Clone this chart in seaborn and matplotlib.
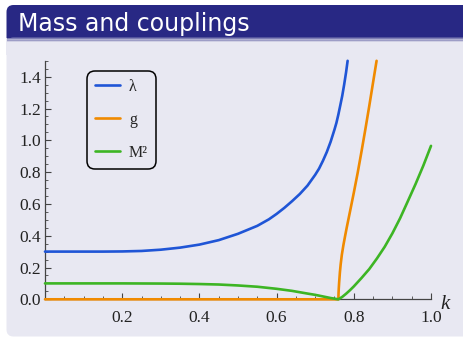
import numpy as np
import pandas as pd
import matplotlib
matplotlib.use("Agg")
import matplotlib.pyplot as plt
from matplotlib.patches import FancyBboxPatch, Rectangle
from matplotlib.ticker import MultipleLocator, FixedLocator
import seaborn as sns

# ---- data ----
k_lambda = [0.0, 0.1, 0.15, 0.2, 0.25, 0.3, 0.35, 0.4, 0.45, 0.5, 0.55, 0.58, 0.6,
            0.62, 0.64, 0.66, 0.68, 0.7, 0.71, 0.72, 0.73, 0.74, 0.75, 0.755, 0.76,
            0.765, 0.77, 0.775, 0.78, 0.784]
v_lambda = [0.300, 0.300, 0.300, 0.301, 0.304, 0.312, 0.325, 0.344, 0.372, 0.412,
            0.462, 0.503, 0.537, 0.575, 0.617, 0.662, 0.715, 0.783, 0.822, 0.871,
            0.926, 0.991, 1.068, 1.110, 1.162, 1.220, 1.279, 1.350, 1.428, 1.500]

k_g = [0.0, 0.760, 0.7605, 0.761, 0.762, 0.764, 0.766, 0.769, 0.773, 0.778, 0.782,
       0.790, 0.800, 0.810, 0.820, 0.830, 0.840, 0.850, 0.857, 0.859]
v_g = [0.0, 0.0, 0.040, 0.065, 0.105, 0.170, 0.220, 0.280, 0.340, 0.405, 0.455,
       0.550, 0.670, 0.795, 0.930, 1.070, 1.215, 1.365, 1.470, 1.500]

k_m2 = [0.0, 0.1, 0.2, 0.3, 0.35, 0.4, 0.45, 0.5, 0.55, 0.6, 0.64, 0.68, 0.70,
        0.72, 0.74, 0.760, 0.77, 0.78, 0.79, 0.80, 0.82, 0.84, 0.86, 0.88, 0.90,
        0.92, 0.94, 0.96, 0.98, 1.0]
v_m2 = [0.100, 0.100, 0.100, 0.099, 0.098, 0.096, 0.093, 0.087, 0.079, 0.066,
        0.053, 0.036, 0.028, 0.018, 0.008, 0.0, 0.015, 0.035, 0.057, 0.081, 0.134,
        0.190, 0.257, 0.330, 0.415, 0.510, 0.617, 0.725, 0.840, 0.965]

series_names = ["λ", "g", "M²"]
series_colors = ["#1f55d6", "#f08a00", "#3db524"]
x_ticks = [0.2, 0.4, 0.6, 0.8, 1.0]
y_ticks = [0.0, 0.2, 0.4, 0.6, 0.8, 1.0, 1.2, 1.4]
title_text = "Mass and couplings"
x_label = "k"

df = pd.concat([
    pd.DataFrame({"k": k_lambda, "v": v_lambda, "s": series_names[0]}),
    pd.DataFrame({"k": k_g, "v": v_g, "s": series_names[1]}),
    pd.DataFrame({"k": k_m2, "v": v_m2, "s": series_names[2]}),
], ignore_index=True)

sns.set_style("ticks")
plt.rcParams["font.family"] = ["Liberation Serif", "DejaVu Serif"]

W, H = 464, 339
fig = plt.figure(figsize=(W / 100, H / 100), dpi=100, facecolor="white")

bar_col = "#282884"
body_col = "#e8e8f2"
tr = fig.dpi_scale_trans

def px(x0, y0, x1, y1):
    # pixel box (top-left origin) -> inches (bottom-left origin)
    return x0 / 100, (H - y1) / 100, (x1 - x0) / 100, (y1 - y0) / 100

x, y, w, h = px(6.5, 5, 480, 46)
fig.patches.append(FancyBboxPatch((x, y), w, h, boxstyle="round,pad=0,rounding_size=0.07",
                                  transform=tr, facecolor=bar_col, edgecolor="none", zorder=-10))
x, y, w, h = px(6.5, 37.5, 480, 336.5)
fig.patches.append(FancyBboxPatch((x, y), w, h, boxstyle="round,pad=0,rounding_size=0.07",
                                  transform=tr, facecolor=body_col, edgecolor="none", zorder=-9))
x, y, w, h = px(5.5, 37.5, 480, 55)
fig.patches.append(Rectangle((x, y), w, h, transform=tr, facecolor=body_col,
                             edgecolor="none", zorder=-8))
for (a, b, al) in [(37.5, 39, 0.55), (39, 40.5, 0.3), (40.5, 42, 0.12)]:
    x, y, w, h = px(6.5, a, 480, b)
    fig.patches.append(Rectangle((x, y), w, h, transform=tr, facecolor=bar_col, alpha=al,
                                 edgecolor="none", zorder=-7))

fig.text(18 / W, 1 - 30.7 / H, title_text, color="white", fontsize=17,
         family=["DejaVu Sans"], va="baseline", ha="left")

ax = fig.add_axes([45 / W, 1 - 299.3 / H, 386 / W, 238.5 / H])
ax.set_facecolor("none")

sns.lineplot(data=df, x="k", y="v", hue="s", palette=dict(zip(series_names, series_colors)),
             linewidth=1.9, ax=ax, sort=False, estimator=None, clip_on=False, zorder=5)

ax.set_xlim(0, 1.0)
ax.set_ylim(0, 1.5)
ax.xaxis.set_major_locator(FixedLocator(x_ticks))
ax.yaxis.set_major_locator(FixedLocator(y_ticks))
ax.xaxis.set_minor_locator(MultipleLocator(0.05))
ax.yaxis.set_minor_locator(MultipleLocator(0.05))
ax.set_xticklabels([f"{t:.1f}" for t in x_ticks])
ax.set_yticklabels([f"{t:.1f}" for t in y_ticks])
ax.tick_params(which="both", direction="in", color="#444444")
ax.tick_params(which="major", length=4, width=0.8, labelsize=12.5, labelcolor="#222222")
ax.tick_params(which="minor", length=2, width=0.6)
ax.tick_params(axis="x", which="major", pad=8)
ax.tick_params(axis="y", which="major", pad=3)
for s in ["top", "right"]:
    ax.spines[s].set_visible(False)
for s in ["left", "bottom"]:
    ax.spines[s].set_color("#444444")
    ax.spines[s].set_linewidth(0.9)
ax.set_xlabel("")
ax.set_ylabel("")
ax.text(1.036, -0.02, x_label, transform=ax.transAxes, fontsize=15, style="italic",
        ha="center", va="center", color="#222222", clip_on=False)

handles, labels = ax.get_legend_handles_labels()
leg = ax.legend(handles, labels, loc="upper left", bbox_to_anchor=(0.108, 0.957),
                borderaxespad=0, fontsize=11.5, frameon=True, fancybox=True,
                handlelength=1.6, handletextpad=0.55, borderpad=0.5, labelspacing=1.05)
fr = leg.get_frame()
fr.set_facecolor("none")
fr.set_edgecolor("black")
fr.set_linewidth(1.1)
fr.set_alpha(None)
fr.set_boxstyle("round,pad=0,rounding_size=0.5")
for lh in leg.get_lines():
    lh.set_linewidth(1.9)

fig.savefig("out.png", dpi=100, facecolor="white")
